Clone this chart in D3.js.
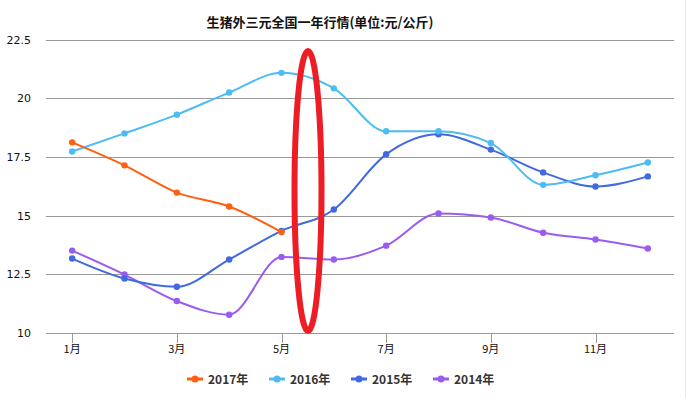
<!DOCTYPE html>
<html>
<head>
<meta charset="utf-8">
<script src="https://cdn.jsdelivr.net/npm/d3@7"></script>
<style>
  body { margin: 0; background: #fff; }
  svg { display: block; }
</style>
</head>
<body>
<div id="chart"></div>
<script>
const months = [1, 2, 3, 4, 5, 6, 7, 8, 9, 10, 11, 12];
const tickMonths = [1, 3, 5, 7, 9, 11];
const yTicks = [10, 12.5, 15, 17.5, 20, 22.5];

const series2017 = [18.12, 17.14, 15.98, 15.39, 14.30];
const series2016 = [17.73, 18.50, 19.30, 20.24, 21.08, 20.42, 18.59, 18.59, 18.09, 16.31, 16.72, 17.26];
const series2015 = [13.17, 12.32, 11.97, 13.13, 14.35, 15.26, 17.61, 18.46, 17.81, 16.84, 16.24, 16.67];
const series2014 = [13.51, 12.49, 11.36, 10.78, 13.24, 13.13, 13.72, 15.09, 14.92, 14.27, 13.98, 13.60];

const seriesNames = ["2017年", "2016年", "2015年", "2014年"];
const seriesColors = ["#ff5f0f", "#4dbcf2", "#4169e1", "#9a5cf0"];

const title = "生猪外三元全国一年行情(单位:元/公斤)";

const width = 687, height = 398;
const margin = { left: 46, right: 13, top: 40, bottom: 65 };

const svg = d3.select("#chart").append("svg")
    .attr("width", width)
    .attr("height", height);

// faint frame on the right edge
svg.append("line")
    .attr("x1", 685.5).attr("x2", 685.5)
    .attr("y1", 0).attr("y2", height)
    .attr("stroke", "#e3eaf2")
    .attr("stroke-width", 1);

const x = d3.scalePoint()
    .domain(months)
    .range([margin.left, width - margin.right])
    .padding(0.5);

const y = d3.scaleLinear()
    .domain([10, 22.5])
    .range([height - margin.bottom, margin.top - 0.5]);

// title
svg.append("text")
    .attr("x", 320)
    .attr("y", 27)
    .attr("text-anchor", "middle")
    .attr("font-family", "'Noto Sans CJK SC', sans-serif")
    .attr("font-size", 13)
    .attr("font-weight", "bold")
    .attr("fill", "#111")
    .text(title);

// horizontal grid + y labels
const yAxis = svg.append("g").attr("class", "y-axis");
yAxis.selectAll("line")
    .data(yTicks)
    .enter()
    .append("line")
      .attr("x1", margin.left)
      .attr("x2", width - margin.right)
      .attr("y1", d => Math.round(y(d)) + 0.5)
      .attr("y2", d => Math.round(y(d)) + 0.5)
      .attr("stroke", "#999")
      .attr("stroke-width", 1.2);
yAxis.selectAll("text")
    .data(yTicks)
    .enter()
    .append("text")
      .attr("x", 31)
      .attr("y", d => y(d) + 4)
      .attr("text-anchor", "end")
      .attr("font-family", "'DejaVu Sans', sans-serif")
      .attr("font-size", 11)
      .attr("fill", "#111")
      .text(d => d);

// x ticks + labels
const xAxis = svg.append("g").attr("class", "x-axis");
xAxis.selectAll("line")
    .data(tickMonths)
    .enter()
    .append("line")
      .attr("x1", d => Math.round(x(d)) + 0.5)
      .attr("x2", d => Math.round(x(d)) + 0.5)
      .attr("y1", y(10))
      .attr("y2", y(10) + 10)
      .attr("stroke", "#999")
      .attr("stroke-width", 1);
xAxis.selectAll("text")
    .data(tickMonths)
    .enter()
    .append("text")
      .attr("x", d => x(d))
      .attr("y", y(10) + 20)
      .attr("text-anchor", "middle")
      .attr("font-family", "'Noto Sans CJK SC', sans-serif")
      .attr("font-size", 11)
      .attr("fill", "#111")
      .text(d => d + "月");

// series lines
const allSeries = [series2017, series2016, series2015, series2014];
const line = d3.line()
    .x((d, i) => x(months[i]))
    .y(d => y(d))
    .curve(d3.curveMonotoneX);

// draw back to front so 2017 sits on top
for (let s = allSeries.length - 1; s >= 0; s--) {
  const g = svg.append("g").attr("class", "series-" + s);
  g.append("path")
      .attr("d", line(allSeries[s]))
      .attr("fill", "none")
      .attr("stroke", seriesColors[s])
      .attr("stroke-width", 2);
  g.selectAll("circle")
      .data(allSeries[s])
      .enter()
      .append("circle")
        .attr("cx", (d, i) => x(months[i]))
        .attr("cy", d => y(d))
        .attr("r", 3.2)
        .attr("fill", seriesColors[s]);
}

// legend
const legendX = [187, 269, 351, 433];
const legend = svg.append("g").attr("class", "legend");
seriesNames.forEach((name, i) => {
  const item = legend.append("g").attr("transform", `translate(${legendX[i]},379)`);
  item.append("line")
      .attr("x1", 0).attr("x2", 16)
      .attr("y1", 0).attr("y2", 0)
      .attr("stroke", seriesColors[i])
      .attr("stroke-width", 3);
  item.append("circle")
      .attr("cx", 8).attr("cy", 0).attr("r", 3.5)
      .attr("fill", seriesColors[i]);
  item.append("text")
      .attr("x", 21)
      .attr("y", 5)
      .attr("font-family", "'Noto Sans CJK SC', sans-serif")
      .attr("font-size", 12)
      .attr("font-weight", "bold")
      .attr("fill", "#333")
      .text(name);
});

// red hand-drawn ellipse annotation
svg.append("ellipse")
    .attr("cx", 308)
    .attr("cy", 191)
    .attr("rx", 13.5)
    .attr("ry", 140)
    .attr("fill", "none")
    .attr("stroke", "#ee1c24")
    .attr("stroke-width", 6);
</script>
</body>
</html>
